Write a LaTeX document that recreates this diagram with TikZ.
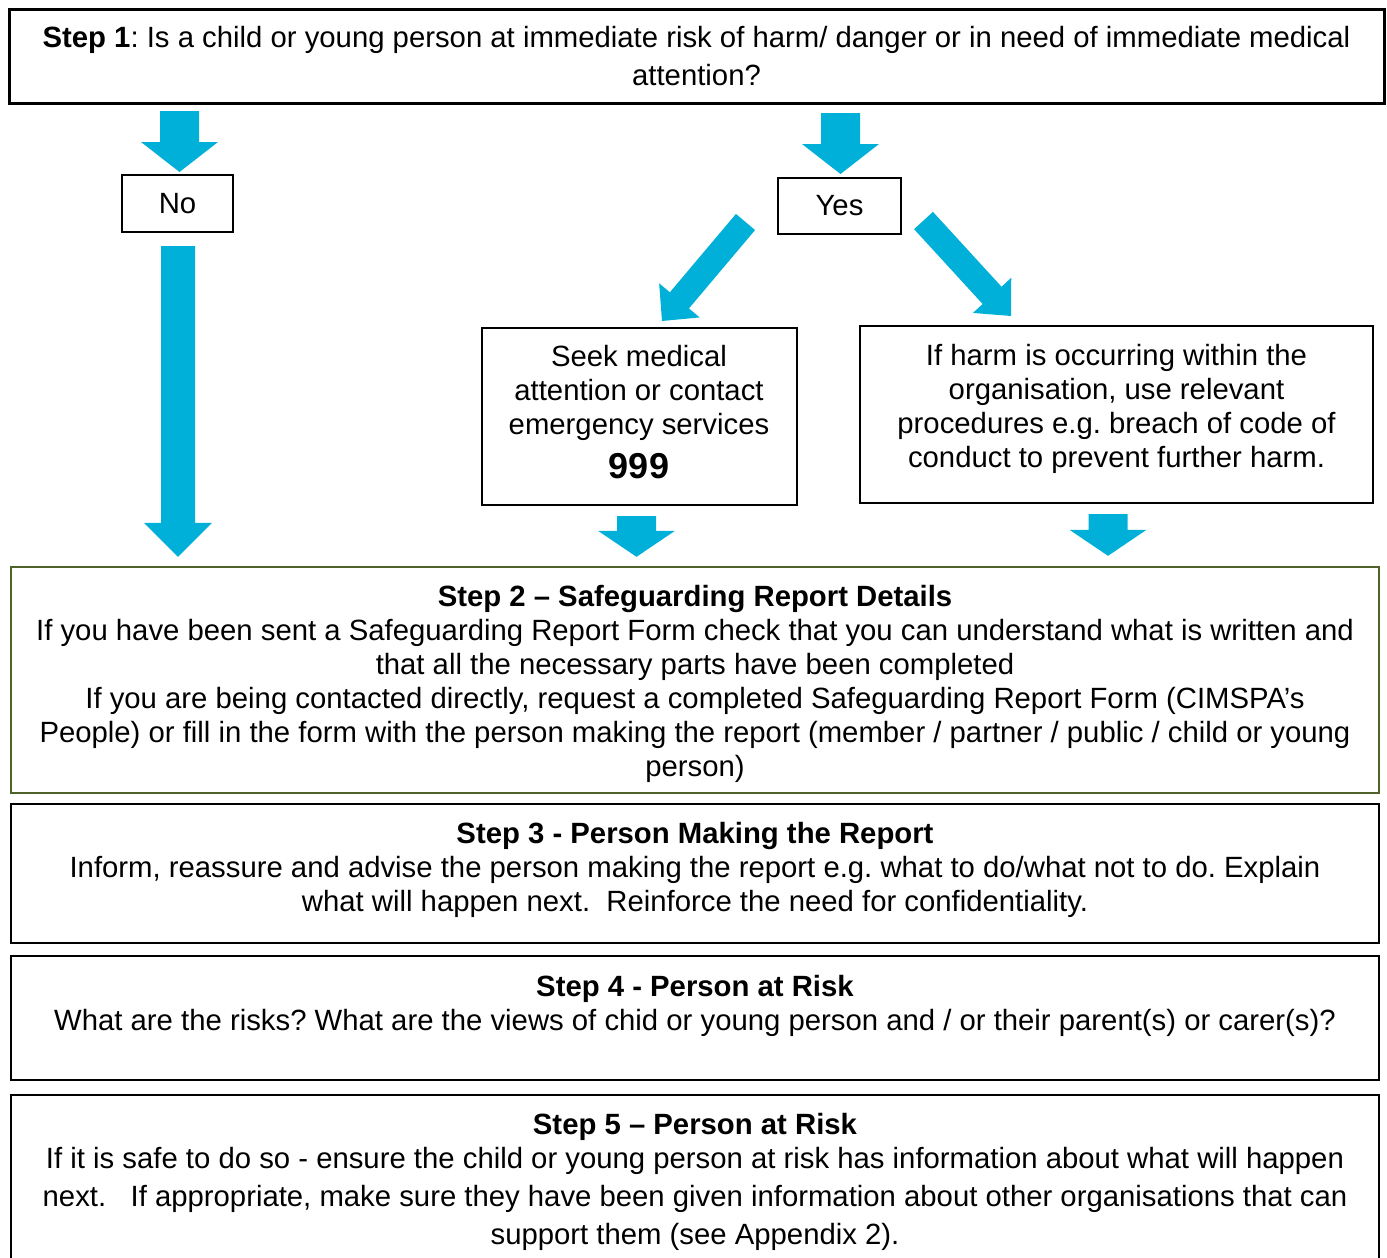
\documentclass[tikz,border=0pt]{standalone}
\usepackage{fontspec}
\setmainfont{Liberation Sans}
\usetikzlibrary{calc}
\frenchspacing
\definecolor{arrowblue}{RGB}{0,176,216}
\definecolor{stepgreen}{RGB}{79,98,40}
\newcommand{\dropby}[1]{\rule[-#1]{0pt}{#1}}
\newcommand{\liftby}[1]{\rule{0pt}{#1}}
\newcommand{\blockarrow}[5]{%
  \coordinate (hb) at ($(#2)!#5!(#1)$);
  \fill[arrowblue] ($(#1)!#3!90:(#2)$) -- ($(hb)!#3!90:(#2)$) -- ($(hb)!#4!90:(#2)$) -- (#2)
    -- ($(hb)!#4!-90:(#2)$) -- ($(hb)!#3!-90:(#2)$) -- ($(#1)!#3!-90:(#2)$) -- cycle;}
\begin{document}
\begin{tikzpicture}[x=0.5pt,y=-0.5pt,
  flowbox/.style={draw,line width=1pt,align=center,inner sep=0pt,font=\fontsize{14.65pt}{17pt}\selectfont},
  stepbox/.style={flowbox,line width=1.2pt,minimum width=684pt}]
\clip (0,0) rectangle (1387,1258);
\node[flowbox,line width=1.5pt,minimum width=687.5pt,minimum height=47pt,font=\fontsize{14.65pt}{19pt}\selectfont] (step1) at (696.5,56)
  {\textbf{Step 1}: Is a child or young person at immediate risk of harm/ danger or in need of immediate medical\\attention?};
\node[flowbox,minimum width=55.5pt,minimum height=28.5pt] (no) at (177.5,203.5) {No};
\node[flowbox,minimum width=61.5pt,minimum height=28pt] (yes) at (839.5,206) {Yes};
\node[flowbox,minimum width=157.5pt,minimum height=88.5pt] (medical) at (639,416.5)
  {Seek medical\\attention or contact\\emergency services\\[5pt]{\fontsize{18pt}{22pt}\selectfont\bfseries 999}\dropby{4.5pt}};
\node[flowbox,minimum width=256.5pt,minimum height=88.5pt] (harm) at (1116.5,414.5)
  {If harm is occurring within the\\organisation, use relevant\\procedures e.g. breach of code of\\conduct to prevent further harm.\dropby{9pt}};
\node[stepbox,draw=stepgreen,minimum height=113pt] (step2) at (695,680)
  {\liftby{14.7pt}\textbf{Step 2 – Safeguarding Report Details}\\
   If you have been sent a Safeguarding Report Form check that you can understand what is written and\\
   that all the necessary parts have been completed\\
   If you are being contacted directly, request a completed Safeguarding Report Form (CIMSPA’s\\
   People) or fill in the form with the person making the report (member / partner / public / child or young\\
   person)};
\node[stepbox,minimum height=69.5pt] (step3) at (695,873.5)
  {\textbf{Step 3 - Person Making the Report}\\
   Inform, reassure and advise the person making the report e.g. what to do/what not to do. Explain\\
   what will happen next.\ \ Reinforce the need for confidentiality.\dropby{7pt}};
\node[stepbox,minimum height=62pt] (step4) at (695,1018)
  {\textbf{Step 4 - Person at Risk}\\
   What are the risks? What are the views of chid or young person and / or their parent(s) or carer(s)?\dropby{15.5pt}};
\node[stepbox,anchor=north,inner ysep=9pt,font=\fontsize{14.65pt}{19pt}\selectfont] (step5) at (695,1094)
  {\textbf{Step 5 – Person at Risk}\\[-2pt]
   If it is safe to do so - ensure the child or young person at risk has information about what will happen\\
   next.\ \ \ If appropriate, make sure they have been given information about other organisations that can\\
   support them (see Appendix 2).\dropby{30pt}};
\coordinate (noin) at ($(no.north)+(2,-63)$);
\coordinate (notip) at ($(no.north)+(2,-2)$);
\coordinate (yesin) at ($(yes.north)+(1,-64)$);
\coordinate (yestip) at ($(yes.north)+(1,-3)$);
\coordinate (noout) at ($(no.south)+(0.5,13)$);
\coordinate (notwo) at ($(no.south |- step2.north)+(0.5,-9)$);
\coordinate (leftout) at ($(yes.south west)+(-31.5,-13)$);
\coordinate (lefttip) at ($(medical.north)+(23,-6)$);
\coordinate (rightout) at ($(yes.south east)+(21.5,-14.5)$);
\coordinate (righttip) at ($(harm.north)+(-105.5,-9)$);
\coordinate (medout) at ($(medical.south)+(-2.5,10)$);
\coordinate (medtwo) at ($(medical.south |- step2.north)+(-2.5,-9)$);
\coordinate (harmout) at ($(harm.south)+(-8.5,10)$);
\coordinate (harmtwo) at ($(harm.south |- step2.north)+(-8.5,-10)$);
\blockarrow{noin}{notip}{9.75pt}{19.25pt}{15pt}
\blockarrow{yesin}{yestip}{9.75pt}{19.25pt}{15pt}
\blockarrow{noout}{notwo}{8.5pt}{17pt}{17pt}
\blockarrow{leftout}{lefttip}{6.25pt}{13.25pt}{13.5pt}
\blockarrow{rightout}{righttip}{6.4pt}{13pt}{14pt}
\blockarrow{medout}{medtwo}{9.75pt}{19.25pt}{13pt}
\blockarrow{harmout}{harmtwo}{9.75pt}{19.25pt}{13pt}
\end{tikzpicture}
\end{document}
